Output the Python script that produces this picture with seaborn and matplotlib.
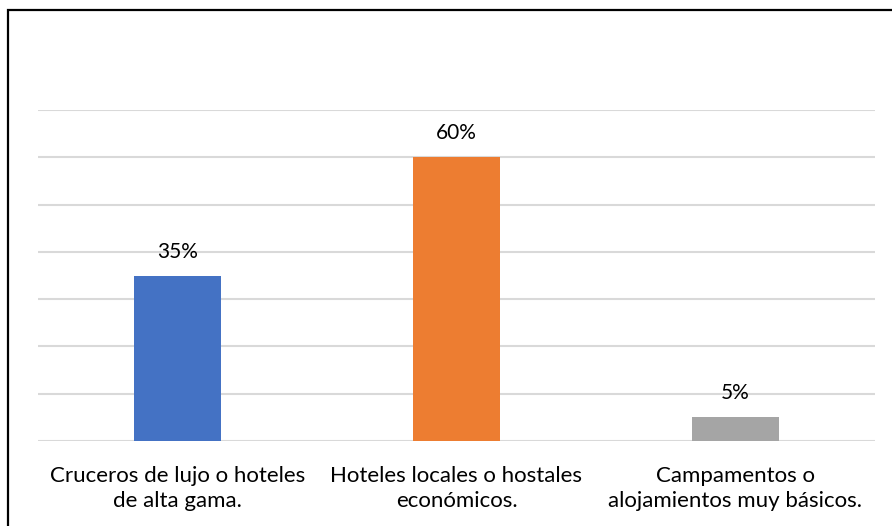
import matplotlib
matplotlib.use("Agg")
import matplotlib.pyplot as plt
import seaborn as sns
import pandas as pd
from matplotlib.patches import Rectangle

categorias = ["Cruceros de lujo o hoteles\nde alta gama.",
              "Hoteles locales o hostales\neconómicos.",
              "Campamentos o\nalojamientos muy básicos."]
valores = [0.35, 0.60, 0.05]
etiquetas = ["35%", "60%", "5%"]
colores = ["#4472C4", "#ED7D31", "#A5A5A5"]

df = pd.DataFrame({"categoria": categorias, "valor": valores})

sns.set_style("white")
plt.rcParams["font.family"] = ["Lato", "DejaVu Sans"]

fig = plt.figure(figsize=(8.92, 5.26), dpi=100)
ax = fig.add_axes([38 / 892, 85 / 526, 837 / 892, 331 / 526])

sns.barplot(data=df, x="categoria", y="valor", hue="categoria", palette=colores,
            width=0.315, saturation=1, linewidth=0, legend=False, ax=ax, zorder=3)

ax.set_ylim(0, 0.70)
ax.set_yticks([i / 10 for i in range(0, 8)])
ax.yaxis.grid(True, color="#D9D9D9", linewidth=1.5, zorder=0)
ax.set_axisbelow(True)
ax.tick_params(axis="y", left=False, labelleft=False)
ax.tick_params(axis="x", bottom=False, pad=14.5, labelsize=16, colors="#000000")
for lbl in ax.get_xticklabels():
    lbl.set_linespacing(1.32)
for s in ax.spines.values():
    s.set_visible(False)
ax.set_xlabel("")
ax.set_ylabel("")

for i, (v, t) in enumerate(zip(valores, etiquetas)):
    ax.annotate(t, (i, v), xytext=(0, 24), textcoords="offset pixels",
                ha="center", va="center", fontsize=15, color="#000000")

fig.patches.append(Rectangle((8 / 892, -0.1), 1.2, 1.0 - 10 / 526 + 0.1,
                             transform=fig.transFigure, fill=False,
                             edgecolor="black", linewidth=1.6))

fig.savefig("out.png", dpi=100)
